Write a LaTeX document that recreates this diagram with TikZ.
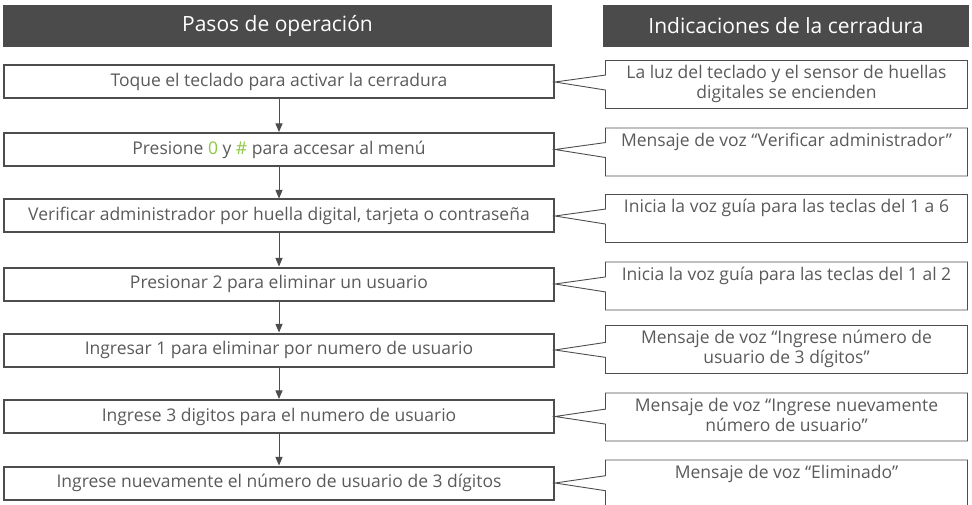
\documentclass[tikz,border=0pt]{standalone}
\usepackage{fontspec}
\setmainfont{Open Sans}
\usetikzlibrary{arrows,shapes.callouts}
\definecolor{oscuro}{HTML}{4A4B4A}
\definecolor{borde}{HTML}{4D4D4D}
\definecolor{texto}{HTML}{5A5A5A}
\definecolor{tecla}{HTML}{8DC63F}

\begin{document}
\begin{tikzpicture}[x=1pt,y=-1pt]
	\tikzstyle{every node}+=[inner sep=0pt, text=texto, font=\fontsize{17.5}{20}\selectfont]
	\tikzstyle{titulo}=[fill=oscuro, text=white, minimum height=42pt, font=\fontsize{21}{24}\selectfont]
	\tikzstyle{paso}=[draw=borde, line width=2pt, minimum width=550pt, minimum height=33pt]
	\tikzstyle{indic}=[rectangle callout, draw=borde, line width=0.9pt, minimum width=362pt, minimum height=48pt, callout pointer width=15pt, execute at begin node={\begin{minipage}[c][44pt][t]{358pt}\vspace*{3pt}\centering}, execute at end node={\end{minipage}}]
	\tikzstyle{flecha}=[draw=borde, line width=1pt, -triangle 45]
	\useasboundingbox (0,0) rectangle (972,505);
	\clip (0,0) rectangle (972,505);
	% encabezados
	\node[titulo, minimum width=549pt] (tpasos) at (277.5,26) {Pasos de operación};
	\node[titulo, minimum width=366pt] (tind) at (786,26) {Indicaciones de la cerradura};
	% pasos de operacion
	\node[paso] (p1) at (279,82) {Toque el teclado para activar la cerradura};
	\node[paso] (p2) at (279,149.5) {Presione \textcolor{tecla}{0} y \textcolor{tecla}{\#} para accesar al menú};
	\node[paso] (p3) at (279,216) {Verificar administrador por huella digital, tarjeta o contraseña};
	\node[paso] (p4) at (279,284) {Presionar 2 para eliminar un usuario};
	\node[paso] (p5) at (279,350) {Ingresar 1 para eliminar por numero de usuario};
	\node[paso] (p6) at (279,416.5) {Ingrese 3 digitos para el numero de usuario};
	\node[paso] (p7) at (279,483) {Ingrese nuevamente el número de usuario de 3 dígitos};
	% indicaciones
	\node[indic, callout absolute pointer=(p1.east)] (i1) at (786.5,84.5) {La luz del teclado y el sensor de huellas\\digitales se encienden};
	\node[indic, callout absolute pointer=(p2.east)] (i2) at (786.5,152) {Mensaje de voz “Verificar administrador”};
	\node[indic, callout absolute pointer=(p3.east)] (i3) at (786.5,218.5) {Inicia la voz guía para las teclas del 1 a 6};
	\node[indic, callout absolute pointer=(p4.east)] (i4) at (786.5,286) {Inicia la voz guía para las teclas del 1 al 2};
	\node[indic, callout absolute pointer=(p5.east)] (i5) at (786.5,349.5) {Mensaje de voz “Ingrese número de\\usuario de 3 dígitos”};
	\node[indic, callout absolute pointer=(p6.east)] (i6) at (786.5,417) {Mensaje de voz “Ingrese nuevamente\\número de usuario”};
	\node[indic, callout absolute pointer=(p7.east)] (i7) at (786.5,484) {Mensaje de voz “Eliminado”};
	% flechas
	\draw[flecha] (p1) -- (p2);
	\draw[flecha] (p2) -- (p3);
	\draw[flecha] (p3) -- (p4);
	\draw[flecha] (p4) -- (p5);
	\draw[flecha] (p5) -- (p6);
	\draw[flecha] (p6) -- (p7);
\end{tikzpicture}
\end{document}
